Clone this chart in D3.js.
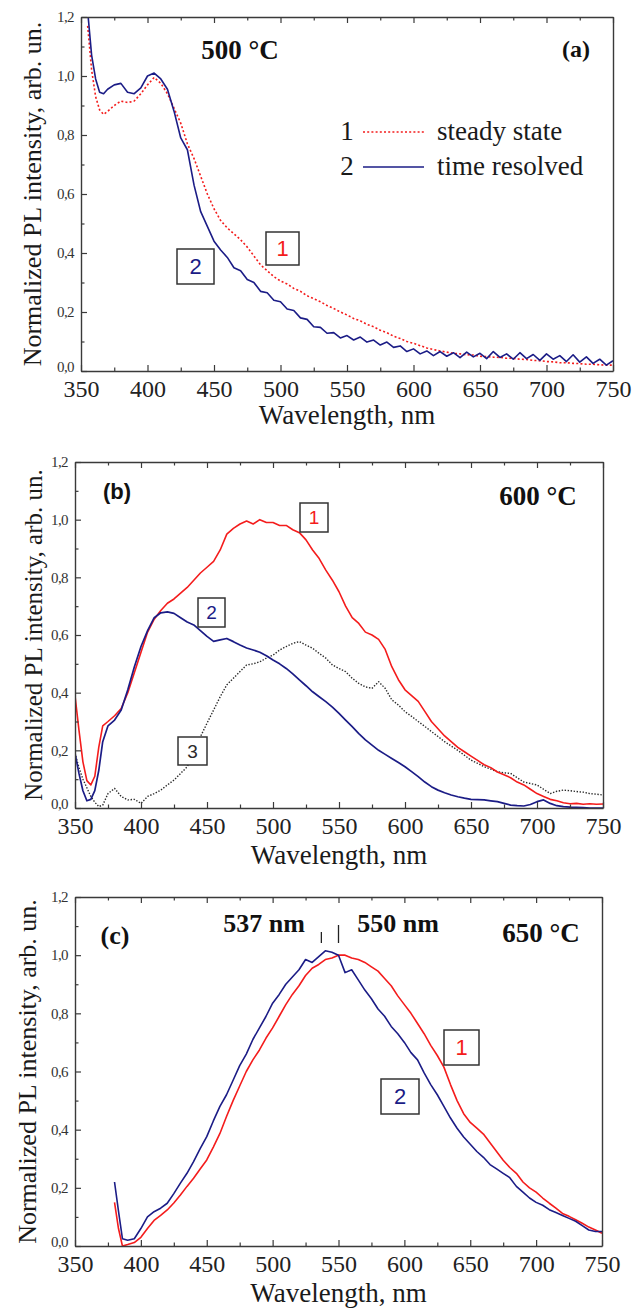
<!DOCTYPE html>
<html><head><meta charset="utf-8">
<script src="https://cdn.jsdelivr.net/npm/d3@7"></script>
<style>body{margin:0;background:#fff}svg{display:block}</style>
</head><body>
<svg id="fig" width="643" height="1310"></svg>
<script>
// ---- (a) 500 °C ----
const wlA = [355,358,361,364,367,370,375,380,385,390,395,400,405,410,415,420,425,430,435,440,
  445,450,455,460,465,470,475,480,485,490,495,500,505,510,515,520,525,530,535,540,
  545,550,555,560,565,570,575,580,585,590,595,600,605,610,615,620,625,630,635,640,
  645,650,655,660,665,670,675,680,685,690,695,700,705,710,715,720,725,730,735,740,745,750];
const steadyA = [1.17,1.02,0.93,0.885,0.87,0.88,0.90,0.915,0.91,0.915,0.94,0.97,0.995,0.975,0.94,0.89,0.84,0.77,0.72,0.66,
  0.60,0.55,0.51,0.485,0.465,0.445,0.42,0.39,0.36,0.34,0.32,0.305,0.295,0.28,0.27,0.255,0.245,0.235,0.222,0.212,
  0.20,0.19,0.178,0.17,0.158,0.15,0.138,0.13,0.118,0.11,0.10,0.094,0.086,0.078,0.073,0.068,0.064,0.06,0.058,0.055,
  0.054,0.05,0.049,0.047,0.046,0.043,0.043,0.04,0.039,0.036,0.035,0.032,0.031,0.028,0.028,0.026,0.025,0.023,0.023,0.021,0.02,0.02];
const timeResA = [1.22,1.07,0.99,0.945,0.94,0.955,0.97,0.975,0.945,0.94,0.96,1.0,1.01,0.99,0.955,0.88,0.79,0.75,0.63,0.54,
  0.49,0.44,0.41,0.385,0.35,0.34,0.31,0.30,0.27,0.265,0.24,0.235,0.21,0.205,0.18,0.175,0.15,0.148,0.128,0.13,
  0.112,0.12,0.105,0.115,0.098,0.105,0.088,0.098,0.08,0.085,0.066,0.075,0.058,0.068,0.052,0.066,0.05,0.062,0.045,0.064,
  0.048,0.06,0.042,0.066,0.046,0.058,0.04,0.062,0.042,0.056,0.036,0.058,0.04,0.052,0.032,0.055,0.03,0.048,0.026,0.04,0.02,0.035];

// ---- (b) 600 °C ----
const wlB = [350,353,356,359,362,365,368,371,375,380,385,390,395,400,405,410,415,420,425,430,
  435,440,445,450,455,460,465,470,475,480,485,490,495,500,505,510,515,520,525,530,
  535,540,545,550,555,560,565,570,575,580,585,590,595,600,605,610,615,620,625,630,
  635,640,645,650,655,660,665,670,675,680,685,690,695,700,705,710,715,720,725,730,735,740,745,750];
const steadyB = [0.39,0.27,0.16,0.095,0.08,0.11,0.21,0.285,0.30,0.32,0.345,0.40,0.47,0.54,0.61,0.655,0.685,0.71,0.725,0.745,
  0.765,0.79,0.815,0.835,0.855,0.895,0.95,0.97,0.985,0.995,0.985,1.0,0.99,0.99,0.98,0.98,0.965,0.955,0.93,0.895,
  0.865,0.825,0.79,0.75,0.70,0.66,0.64,0.61,0.60,0.585,0.55,0.49,0.445,0.41,0.39,0.37,0.335,0.30,0.275,0.25,
  0.23,0.21,0.195,0.18,0.165,0.15,0.14,0.125,0.115,0.105,0.09,0.08,0.065,0.05,0.04,0.03,0.025,0.018,0.015,0.016,0.013,0.015,0.013,0.014];
const timeResB = [0.19,0.12,0.06,0.025,0.03,0.06,0.13,0.23,0.285,0.305,0.34,0.41,0.49,0.56,0.615,0.66,0.677,0.68,0.675,0.66,
  0.645,0.635,0.615,0.595,0.578,0.583,0.588,0.577,0.565,0.555,0.548,0.54,0.528,0.513,0.50,0.484,0.465,0.444,0.424,0.403,
  0.386,0.369,0.35,0.328,0.305,0.282,0.258,0.236,0.218,0.20,0.186,0.172,0.158,0.143,0.126,0.109,0.09,0.074,0.062,0.053,
  0.045,0.039,0.034,0.03,0.029,0.028,0.025,0.022,0.016,0.01,0.008,0.007,0.012,0.022,0.028,0.016,0.008,0.005,0.003,0.002,0.001,0.0,0.0,0.0];
const thirdB = [0.19,0.14,0.10,0.07,0.04,0.02,0.005,0.01,0.05,0.068,0.04,0.028,0.03,0.016,0.04,0.05,0.062,0.08,0.097,0.12,
  0.143,0.19,0.247,0.294,0.34,0.386,0.427,0.45,0.473,0.496,0.50,0.507,0.52,0.53,0.548,0.56,0.571,0.577,0.565,0.554,
  0.536,0.52,0.496,0.484,0.473,0.45,0.432,0.42,0.415,0.438,0.415,0.375,0.357,0.334,0.318,0.30,0.283,0.265,0.248,0.23,
  0.215,0.20,0.183,0.166,0.155,0.143,0.135,0.126,0.122,0.12,0.105,0.09,0.085,0.08,0.065,0.05,0.058,0.062,0.06,0.057,0.055,0.05,0.048,0.045];

// ---- (c) 650 °C ----
const wlC = [380,383,386,390,395,400,405,410,415,420,425,430,435,440,445,450,455,460,465,470,
  475,480,485,490,495,500,505,510,515,520,525,530,535,540,545,550,555,560,565,570,
  575,580,585,590,595,600,605,610,615,620,625,630,635,640,645,650,655,660,665,670,
  675,680,685,690,695,700,705,710,715,720,725,730,735,740,745,750];
const steadyC = [0.15,0.06,0.0,0.005,0.012,0.03,0.06,0.088,0.105,0.124,0.148,0.175,0.205,0.233,0.265,0.296,0.34,0.387,0.445,0.50,
  0.55,0.60,0.64,0.674,0.715,0.75,0.79,0.83,0.865,0.895,0.93,0.955,0.968,0.985,0.99,1.0,1.0,0.99,0.985,0.975,
  0.96,0.945,0.92,0.895,0.86,0.83,0.80,0.765,0.73,0.69,0.655,0.615,0.555,0.50,0.455,0.425,0.405,0.385,0.355,0.325,
  0.295,0.27,0.25,0.22,0.20,0.185,0.165,0.147,0.13,0.112,0.102,0.09,0.078,0.065,0.055,0.044];
const timeResC = [0.22,0.12,0.025,0.02,0.025,0.06,0.10,0.118,0.13,0.147,0.18,0.216,0.25,0.29,0.335,0.376,0.43,0.48,0.52,0.57,
  0.62,0.66,0.71,0.75,0.79,0.835,0.865,0.90,0.925,0.95,0.985,0.975,0.995,1.015,1.01,1.0,0.94,0.95,0.915,0.88,
  0.85,0.815,0.79,0.755,0.73,0.70,0.665,0.64,0.595,0.555,0.52,0.48,0.44,0.405,0.375,0.35,0.325,0.305,0.28,0.265,
  0.25,0.235,0.205,0.185,0.165,0.15,0.14,0.125,0.115,0.105,0.095,0.085,0.07,0.055,0.05,0.05];

// ---- axes ----
const xTicks = [350,400,450,500,550,600,650,700,750];
const xMinor = [375,425,475,525,575,625,675,725];
const yTicks = [0,0.2,0.4,0.6,0.8,1.0,1.2];
const yMinor = [0.1,0.3,0.5,0.7,0.9,1.1];
const peakMarks = [537,550];

const RED = '#f41c1c', BLUE = '#1b1c86', BLACK = '#2a2a2a', AXIS = '#3a3a3a';
const SERIF = '"Liberation Serif","Times New Roman",serif';
const SANS = '"Liberation Sans",Arial,sans-serif';

const svg = d3.select('#fig');
const fmtY = d => d3.format('.1f')(d).replace('.', ',');

const panels = [
  { id:'a', left:81, right:613, top:17, bottom:371, titleX:41, titleSize:26, xTitleY:424, xLabelPad:9,
    series:[
      {wl:wlA, v:steadyA, color:RED, w:1.6, dash:'2,2.2'},
      {wl:wlA, v:timeResA, color:BLUE, w:1.6}
    ],
    texts:[
      {t:'500 °C', x:240, y:59, size:27, bold:true},
      {t:'(a)', x:576, y:57, size:24, bold:true}
    ],
    boxes:[
      {t:'2', x0:177, y0:249, x1:214, y1:284, color:BLUE, size:22},
      {t:'1', x0:266, y0:232, x1:299, y1:265, color:RED, size:22}
    ],
    legend:true },
  { id:'b', left:75, right:603, top:462, bottom:808, titleX:42, titleSize:25, xTitleY:864, xLabelPad:9,
    series:[
      {wl:wlB, v:thirdB, color:BLACK, w:1.4, dash:'1.4,1.6'},
      {wl:wlB, v:steadyB, color:RED, w:1.6},
      {wl:wlB, v:timeResB, color:BLUE, w:1.7}
    ],
    texts:[
      {t:'(b)', x:117, y:499, size:22, bold:true, sans:true},
      {t:'600 °C', x:538, y:505, size:27, bold:true}
    ],
    boxes:[
      {t:'1', x0:300, y0:503, x1:328, y1:532, color:RED, size:19},
      {t:'2', x0:198, y0:598, x1:225, y1:627, color:BLUE, size:19},
      {t:'3', x0:178, y0:737, x1:207, y1:765, color:BLACK, size:19}
    ] },
  { id:'c', left:75, right:602, top:897, bottom:1246, titleX:36, titleSize:26, xTitleY:1302, xLabelPad:9,
    series:[
      {wl:wlC, v:steadyC, color:RED, w:1.6},
      {wl:wlC, v:timeResC, color:BLUE, w:1.6}
    ],
    texts:[
      {t:'(c)', x:115, y:944, size:26, bold:true},
      {t:'537 nm', x:264, y:932, size:26, bold:true},
      {t:'550 nm', x:398, y:932, size:26, bold:true},
      {t:'650 °C', x:541, y:942, size:27, bold:true}
    ],
    boxes:[
      {t:'1', x0:444, y0:1030, x1:479, y1:1065, color:RED, size:22},
      {t:'2', x0:381, y0:1079, x1:419, y1:1114, color:BLUE, size:22}
    ],
    marks:true }
];

function drawPanel(p) {
  const x = d3.scaleLinear().domain([350,750]).range([p.left,p.right]);
  const y = d3.scaleLinear().domain([0,1.2]).range([p.bottom,p.top]);
  const g = svg.append('g').attr('class','panel-'+p.id);

  const clipId = 'clip-' + p.id;
  g.append('clipPath').attr('id', clipId).append('rect')
    .attr('x', p.left).attr('y', p.top)
    .attr('width', p.right - p.left).attr('height', p.bottom - p.top);

  // spectra
  const curves = g.append('g').attr('clip-path', `url(#${clipId})`);
  p.series.forEach(s => {
    const line = d3.line().x((d,i) => x(s.wl[i])).y(d => y(d));
    curves.append('path').datum(s.v)
      .attr('d', line).attr('fill','none')
      .attr('stroke', s.color).attr('stroke-width', s.w)
      .attr('stroke-linejoin','round')
      .attr('stroke-dasharray', s.dash || null);
  });

  // axes
  const styleAxis = sel => {
    sel.selectAll('.domain').attr('stroke', AXIS).attr('stroke-width', 1.4);
    sel.selectAll('.tick line').attr('stroke', AXIS).attr('stroke-width', 1.2);
  };
  const bottom = g.append('g').attr('transform', `translate(0,${p.bottom})`)
    .call(d3.axisBottom(x).tickValues(xTicks).tickSizeInner(-6).tickSizeOuter(0).tickPadding(p.xLabelPad))
    .call(styleAxis);
  bottom.selectAll('.tick text').attr('font-family', SERIF).attr('font-size', 24).attr('fill','#222');
  g.append('g').attr('transform', `translate(0,${p.bottom})`)
    .call(d3.axisBottom(x).tickValues(xMinor).tickSize(-3.5).tickFormat(''))
    .call(styleAxis).select('.domain').remove();

  g.append('g').attr('transform', `translate(0,${p.top})`)
    .call(d3.axisTop(x).tickValues(xTicks).tickSizeInner(-6).tickSizeOuter(0).tickFormat(''))
    .call(styleAxis);
  g.append('g').attr('transform', `translate(0,${p.top})`)
    .call(d3.axisTop(x).tickValues(xMinor).tickSize(-3.5).tickFormat(''))
    .call(styleAxis).select('.domain').remove();

  const left = g.append('g').attr('transform', `translate(${p.left},0)`)
    .call(d3.axisLeft(y).tickValues(yTicks).tickSizeInner(-6).tickSizeOuter(0).tickPadding(7).tickFormat(fmtY))
    .call(styleAxis);
  left.selectAll('.tick text').attr('font-family', SERIF).attr('font-size', 15)
    .attr('fill','#333').attr('letter-spacing', -0.6)
    .attr('dy', d => d === 0 ? '0.05em' : '0.32em');
  g.append('g').attr('transform', `translate(${p.left},0)`)
    .call(d3.axisLeft(y).tickValues(yMinor).tickSize(-3.5).tickFormat(''))
    .call(styleAxis).select('.domain').remove();

  g.append('g').attr('transform', `translate(${p.right},0)`)
    .call(d3.axisRight(y).tickValues([]).tickSizeOuter(0))
    .call(styleAxis);

  // axis titles
  g.append('text').attr('x', (p.left + p.right) / 2).attr('y', p.xTitleY)
    .attr('text-anchor','middle').attr('font-family', SERIF).attr('font-size', 27).attr('fill','#1a1a1a')
    .text('Wavelength, nm');
  g.append('text')
    .attr('transform', `translate(${p.titleX},${(p.top + p.bottom) / 2}) rotate(-90)`)
    .attr('text-anchor','middle').attr('font-family', SERIF).attr('font-size', p.titleSize).attr('fill','#1a1a1a')
    .text('Normalized PL intensity, arb. un.');

  // annotations
  p.texts.forEach(t => {
    g.append('text').attr('x', t.x).attr('y', t.y).attr('text-anchor','middle')
      .attr('font-family', t.sans ? SANS : SERIF).attr('font-weight', t.bold ? 'bold' : 'normal')
      .attr('font-size', t.size).attr('fill','#111').text(t.t);
  });

  // numbered curve tags
  p.boxes.forEach(b => {
    g.append('rect').attr('x', b.x0).attr('y', b.y0).attr('width', b.x1 - b.x0).attr('height', b.y1 - b.y0)
      .attr('fill','#fff').attr('stroke','#333').attr('stroke-width',1.5);
    g.append('text').attr('x', (b.x0 + b.x1) / 2).attr('y', (b.y0 + b.y1) / 2)
      .attr('dy','0.36em').attr('text-anchor','middle')
      .attr('font-family', SANS).attr('font-size', b.size).attr('fill', b.color).text(b.t);
  });

  if (p.legend) {
    const rows = [
      {n:'1', label:'steady state', color:RED, dash:'2,2.2', y:132},
      {n:'2', label:'time resolved', color:BLUE, dash:null, y:167}
    ];
    rows.forEach(r => {
      g.append('text').attr('x', 347).attr('y', r.y + 8).attr('text-anchor','middle')
        .attr('font-family', SERIF).attr('font-size', 27).attr('fill','#1a1a1a').text(r.n);
      g.append('line').attr('x1', 363).attr('x2', 424).attr('y1', r.y).attr('y2', r.y)
        .attr('stroke', r.color).attr('stroke-width', 1.6).attr('stroke-dasharray', r.dash);
      g.append('text').attr('x', 437).attr('y', r.y + 8)
        .attr('font-family', SERIF).attr('font-size', 27).attr('fill','#1a1a1a').text(r.label);
    });
  }

  if (p.marks) {
    peakMarks.forEach((m, i) => {
      g.append('line').attr('x1', x(m)).attr('x2', x(m))
        .attr('y1', i === 0 ? 932 : 925).attr('y2', 943)
        .attr('stroke', '#222').attr('stroke-width', 1.3);
    });
  }
}

panels.forEach(drawPanel);
</script>
</body></html>
